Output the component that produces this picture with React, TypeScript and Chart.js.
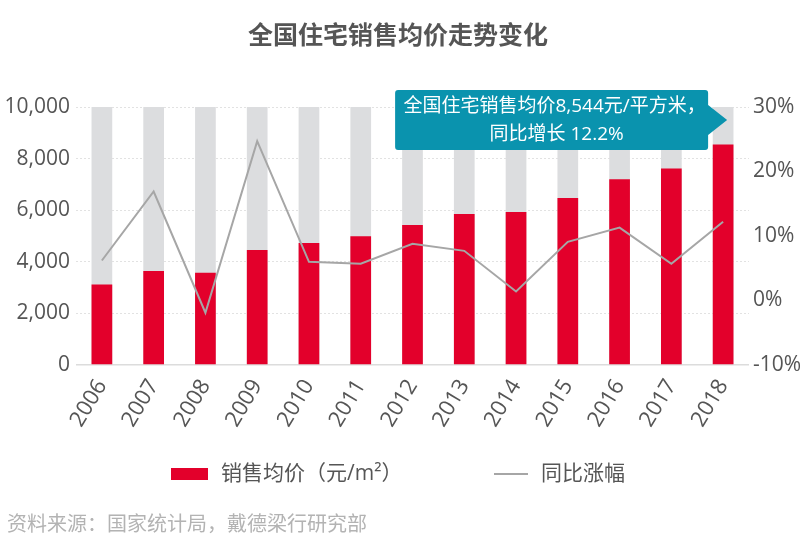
import React, { useEffect, useRef } from "react";
import { Chart, registerables } from "chart.js";

Chart.register(...registerables);

const years = ["2006", "2007", "2008", "2009", "2010", "2011", "2012", "2013", "2014", "2015", "2016", "2017", "2018"];
const avgPrice = [3119, 3645, 3576, 4459, 4725, 4993, 5430, 5850, 5933, 6473, 7203, 7614, 8544];
const yoyGrowth = [6.2, 16.9, -1.9, 24.7, 6.0, 5.7, 8.8, 7.7, 1.4, 9.1, 11.3, 5.7, 12.2];
const backdrop = [10000, 10000, 10000, 10000, 10000, 10000, 10000, 10000, 10000, 10000, 10000, 10000, 10000];
const leftTicks = [0, 2000, 4000, 6000, 8000, 10000];
const rightTicks = [-10, 0, 10, 20, 30];

const titleText = "全国住宅销售均价走势变化";
const legendPrice = "销售均价（元/m²）";
const legendGrowth = "同比涨幅";
const sourceText = "资料来源：国家统计局，戴德梁行研究部";
const calloutLine1 = "全国住宅销售均价8,544元/平方米，";
const calloutLine2 = "同比增长 12.2%";

const RED = "#e3002b";
const GREY_BAR = "#dcdddf";
const LINE = "#a6a6a6";
const TEAL = "#0a93ae";
const LABEL = "#555555";
const LATIN = "'Open Sans', 'Noto Sans CJK SC', sans-serif";
const CJK = "'Noto Sans CJK SC', sans-serif";

const decorPlugin = {
  id: "decor",
  beforeDraw(chart: any) {
    const { ctx, width, height } = chart;
    ctx.save();
    ctx.fillStyle = "#ffffff";
    ctx.fillRect(0, 0, width, height);
    ctx.restore();
  },
  afterDraw(chart: any) {
    const { ctx, width } = chart;
    const xs = chart.scales.x;
    const ys = chart.scales.y;
    ctx.save();
    // title
    ctx.fillStyle = LABEL;
    ctx.font = "bold 25px " + CJK;
    ctx.textAlign = "center";
    ctx.textBaseline = "middle";
    ctx.fillText(titleText, width / 2 - 2, 34);

    // legend
    ctx.fillStyle = RED;
    ctx.fillRect(171, 468, 37, 12);
    ctx.fillStyle = LABEL;
    ctx.font = "21px " + LATIN;
    ctx.textAlign = "left";
    ctx.fillText(legendPrice, 221, 474);
    ctx.strokeStyle = LINE;
    ctx.lineWidth = 2;
    ctx.beginPath();
    ctx.moveTo(494, 474);
    ctx.lineTo(528, 474);
    ctx.stroke();
    ctx.fillText(legendGrowth, 541, 474);

    // source
    ctx.fillStyle = "#b3b3b3";
    ctx.font = "20px " + CJK;
    ctx.fillText(sourceText, 7, 523);

    // callout anchored on the last bar
    const last = years.length - 1;
    const tipX = xs.getPixelForValue(last) + 4;
    const tipY = ys.getPixelForValue(9500);
    const boxR = tipX - 19;
    const boxL = boxR - 313;
    const boxT = tipY - 30;
    const boxB = tipY + 30;
    const r = 3;
    ctx.fillStyle = TEAL;
    ctx.beginPath();
    ctx.moveTo(boxL + r, boxT);
    ctx.lineTo(boxR - r, boxT);
    ctx.quadraticCurveTo(boxR, boxT, boxR, boxT + r);
    ctx.lineTo(boxR, tipY - 15);
    ctx.lineTo(tipX, tipY);
    ctx.lineTo(boxR, tipY + 15);
    ctx.lineTo(boxR, boxB - r);
    ctx.quadraticCurveTo(boxR, boxB, boxR - r, boxB);
    ctx.lineTo(boxL + r, boxB);
    ctx.quadraticCurveTo(boxL, boxB, boxL, boxB - r);
    ctx.lineTo(boxL, boxT + r);
    ctx.quadraticCurveTo(boxL, boxT, boxL + r, boxT);
    ctx.closePath();
    ctx.fill();
    ctx.fillStyle = "#ffffff";
    ctx.font = "19px " + LATIN;
    ctx.textAlign = "center";
    ctx.fillText(calloutLine1, (boxL + boxR) / 2 + 3, tipY - 13);
    ctx.fillText(calloutLine2, (boxL + boxR) / 2 + 5, tipY + 15);
    ctx.restore();
  },
};

export default function App() {
  const ref = useRef<HTMLCanvasElement>(null);
  useEffect(() => {
    if (!ref.current) return;
    const chart = new Chart(ref.current, {
      type: "bar",
      data: {
        labels: years,
        datasets: [
          {
            type: "line",
            label: legendGrowth,
            data: yoyGrowth,
            yAxisID: "y1",
            borderColor: LINE,
            borderWidth: 2,
            pointRadius: 0,
            tension: 0,
            order: 0,
          } as any,
          {
            label: legendPrice,
            data: avgPrice,
            yAxisID: "y",
            backgroundColor: RED,
            barPercentage: 0.4,
            categoryPercentage: 1,
            grouped: false,
            order: 1,
          },
          {
            label: "bg",
            data: backdrop,
            yAxisID: "y",
            backgroundColor: GREY_BAR,
            barPercentage: 0.4,
            categoryPercentage: 1,
            grouped: false,
            order: 2,
          },
        ],
      },
      options: {
        responsive: false,
        animation: false,
        devicePixelRatio: 1,
        layout: { padding: { top: 107, left: 0, right: 0, bottom: 0 } },
        plugins: {
          legend: { display: false },
          title: { display: false },
          tooltip: { enabled: false },
        },
        scales: {
          x: {
            grid: { display: false },
            border: { display: false },
            ticks: {
              color: LABEL,
              font: { family: LATIN, size: 22 },
              minRotation: 59,
              maxRotation: 59,
              autoSkip: false,
              padding: 2,
            },
            afterFit: (s: any) => {
              s.height = 183;
            },
          },
          y: {
            position: "left",
            min: 0,
            max: 10000,
            afterBuildTicks: (s: any) => {
              s.ticks = leftTicks.map((v) => ({ value: v }));
            },
            ticks: {
              color: LABEL,
              font: { family: LATIN, size: 21 },
              padding: 6,
              callback: (v: any) => Number(v).toLocaleString("en-US"),
            },
            grid: {
              drawTicks: false,
              color: (c: any) => (c.tick && c.tick.value === 0 ? "#dcdcdc" : "#e2e2e2"),
              lineWidth: (c: any) => (c.tick && c.tick.value === 0 ? 1.5 : 1),
            },
            border: {
              display: false,
              dash: (c: any) => (c.tick && c.tick.value === 0 ? [] : [2, 2]),
            } as any,
            afterFit: (s: any) => {
              s.width = 76;
            },
          },
          y1: {
            position: "right",
            min: -10,
            max: 30,
            afterBuildTicks: (s: any) => {
              s.ticks = rightTicks.map((v) => ({ value: v }));
            },
            ticks: {
              color: LABEL,
              font: { family: LATIN, size: 21 },
              padding: 4,
              callback: (v: any) => v + "%",
            },
            grid: { display: false, drawTicks: false },
            border: { display: false },
            afterFit: (s: any) => {
              s.width = 51;
            },
          },
        },
      },
      plugins: [decorPlugin],
    });
    return () => chart.destroy();
  }, []);
  return (
    <div style={{ position: "fixed", left: 0, top: 0, width: 800, height: 548, background: "#fff" }}>
      <canvas ref={ref} width={800} height={548} style={{ width: 800, height: 548, display: "block" }} />
    </div>
  );
}
